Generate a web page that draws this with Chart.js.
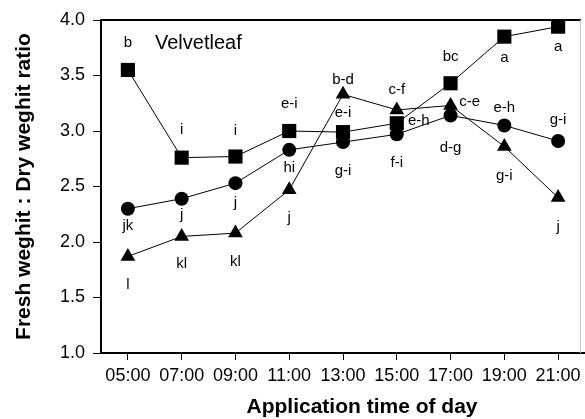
<!DOCTYPE html>
<html>
<head>
<meta charset="utf-8">
<script src="https://cdn.jsdelivr.net/npm/chart.js@4"></script>
<style>
  html, body { margin: 0; padding: 0; background: #fff; }
  #wrap { width: 585px; height: 419px; }
</style>
</head>
<body>
<div id="wrap"><canvas id="myChart" width="585" height="419"></canvas></div>
<script>
var times = ["05:00", "07:00", "09:00", "11:00", "13:00", "15:00", "17:00", "19:00", "21:00"];

var squareVals   = [3.55, 2.76, 2.77, 3.00, 2.99, 3.07, 3.43, 3.85, 3.94];
var circleVals   = [2.30, 2.39, 2.53, 2.83, 2.90, 2.97, 3.14, 3.05, 2.91];
var triangleVals = [1.87, 2.05, 2.08, 2.47, 3.33, 3.19, 3.23, 2.86, 2.40];

var squareLetters   = ["b", "i", "i", "e-i", "e-i", "e-h", "bc", "a", "a"];
var circleLetters   = ["jk", "j", "j", "hi", "g-i", "f-i", "d-g", "e-h", "g-i"];
var triangleLetters = ["l", "kl", "kl", "j", "b-d", "c-f", "c-e", "g-i", "j"];

// where each letter sits relative to its point (px)
var squareOffsets   = [[0,-27],[0,-28],[0,-26],[0,-27],[0,-19],[22,-2],[0,-26],[0,21],[0,20]];
var circleOffsets   = [[0,17],[0,16],[0,20],[0,18],[0,29],[0,29],[0,32],[0,-18],[0,-21]];
var triangleOffsets = [[0,28],[0,27],[0,29],[0,28],[0,-15],[0,-20],[19,-4],[0,29],[0,29]];

var font = "'Liberation Sans', Arial, sans-serif";

var letterPlugin = {
  id: 'letters',
  afterDatasetsDraw: function(chart) {
    var ctx = chart.ctx;
    var a = chart.chartArea;
    ctx.save();
    // frame
    ctx.strokeStyle = '#000';
    ctx.lineWidth = 2;
    ctx.beginPath();
    ctx.moveTo(a.left, a.top);
    ctx.lineTo(a.right - 4, a.top);
    ctx.stroke();
    ctx.strokeStyle = '#c8c8c8';
    ctx.lineWidth = 1;
    ctx.beginPath();
    ctx.moveTo(a.right - 4.5, a.top);
    ctx.lineTo(a.right - 4.5, a.bottom);
    ctx.stroke();

    ctx.fillStyle = '#000';
    ctx.textAlign = 'center';
    ctx.textBaseline = 'middle';
    ctx.font = '15px ' + font;
    chart.data.datasets.forEach(function(ds, i) {
      var meta = chart.getDatasetMeta(i);
      meta.data.forEach(function(pt, j) {
        var off = ds.offsets[j];
        ctx.fillText(ds.letters[j], pt.x + off[0], pt.y + off[1]);
      });
    });
    ctx.font = '20px ' + font;
    ctx.textAlign = 'left';
    ctx.fillText('Velvetleaf', a.left + 54, a.top + 23);

    // x axis title, sits a little right of the axis centre
    ctx.font = 'bold 21px ' + font;
    ctx.textAlign = 'center';
    ctx.fillText('Application time of day', a.left + 261, a.bottom + 54);
    ctx.restore();
  }
};

var ctx = document.getElementById("myChart").getContext('2d');
var myChart = new Chart(ctx, {
  type: 'line',
  data: {
    labels: times,
    datasets: [{
      label: 'square',
      data: squareVals,
      letters: squareLetters,
      offsets: squareOffsets,
      pointStyle: 'rect',
      pointRadius: 10,
      borderColor: '#000',
      backgroundColor: '#000',
      borderWidth: 1,
      pointBorderWidth: 0
    }, {
      label: 'circle',
      data: circleVals,
      letters: circleLetters,
      offsets: circleOffsets,
      pointStyle: 'circle',
      pointRadius: 7,
      borderColor: '#000',
      backgroundColor: '#000',
      borderWidth: 1,
      pointBorderWidth: 0
    }, {
      label: 'triangle',
      data: triangleVals,
      letters: triangleLetters,
      offsets: triangleOffsets,
      pointStyle: 'triangle',
      pointRadius: 8.5,
      borderColor: '#000',
      backgroundColor: '#000',
      borderWidth: 1,
      pointBorderWidth: 0
    }]
  },
  options: {
    responsive: false,
    animation: false,
    layout: { autoPadding: false, padding: { top: 20, right: 0, left: 12, bottom: 2 } },
    plugins: {
      legend: { display: false },
      tooltip: { enabled: false }
    },
    scales: {
      x: {
        offset: true,
        grid: { offset: false, drawOnChartArea: false, drawTicks: true, tickLength: 7, color: '#000' },
        border: { color: '#000', width: 2 },
        ticks: { color: '#000', font: { family: font, size: 18 }, maxRotation: 0, padding: 5 },
        afterFit: function(s) { s.height = 64; s.paddingLeft = 0; s.paddingRight = 0; }
      },
      y: {
        min: 1, max: 4,
        grid: { drawOnChartArea: false, drawTicks: true, tickLength: 8, color: '#000' },
        border: { color: '#000', width: 2 },
        ticks: { stepSize: 0.5, color: '#000', font: { family: font, size: 18 }, padding: 8,
                 callback: function(v) { return v.toFixed(1); } },
        title: { display: true, text: 'Fresh weghit : Dry weghit ratio', color: '#000',
                 font: { family: font, size: 21, weight: 'bold' }, padding: { top: 0, bottom: 5 } },
        afterFit: function(s) { s.width = 89; }
      }
    }
  },
  plugins: [letterPlugin]
});
</script>
</body>
</html>
